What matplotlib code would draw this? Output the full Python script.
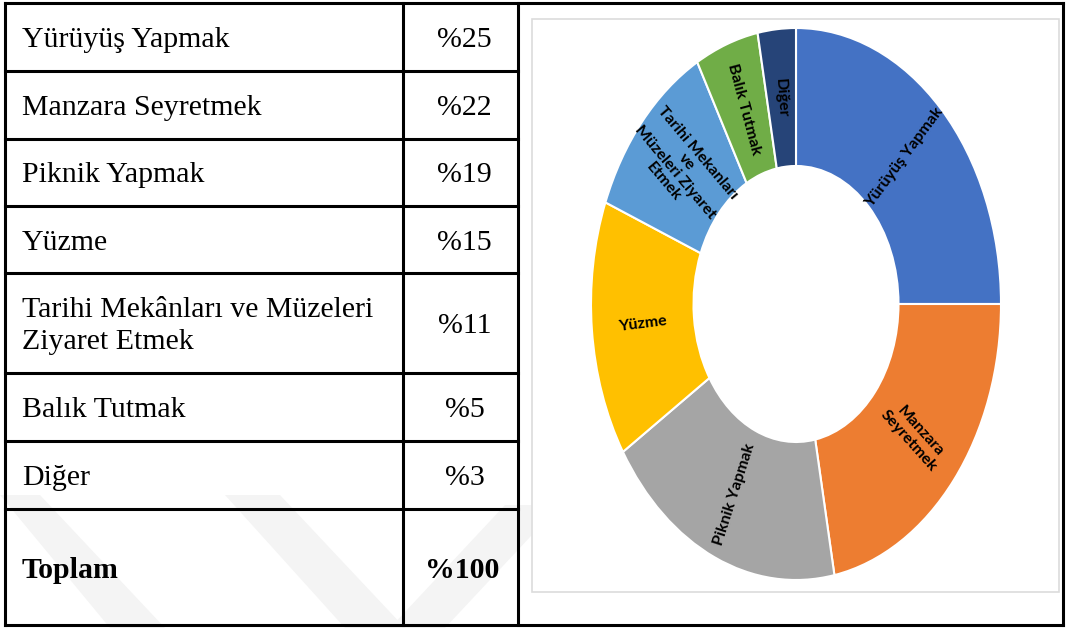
import numpy as np
import matplotlib
matplotlib.use("Agg")
import matplotlib.pyplot as plt
from matplotlib.patches import Polygon, Rectangle

# --- данные ---
activities = ["Yürüyüş Yapmak", "Manzara Seyretmek", "Piknik Yapmak", "Yüzme",
              "Tarihi Mekânları ve Müzeleri\nZiyaret Etmek", "Balık Tutmak", "Diğer"]
shares = [25, 22, 19, 15, 11, 5, 3]
total_label = "Toplam"
donut_labels = ["Yürüyüş Yapmak", "Manzara\nSeyretmek", "Piknik Yapmak", "Yüzme",
                "Tarihi Mekanları\nve\nMüzeleri Ziyaret\nEtmek", "Balık Tutmak", "Diğer"]
colors = ["#4472C4", "#ED7D31", "#A5A5A5", "#FFC000", "#5B9BD5", "#70AD47", "#264478"]

W, H = 1066, 628
fig = plt.figure(figsize=(W / 100, H / 100), dpi=100)

# фон/таблица в пикселях
bg = fig.add_axes([0, 0, 1, 1])
bg.set_xlim(0, W)
bg.set_ylim(H, 0)
bg.axis("off")

# водяной знак (бледные полосы)
wm = "#f4f4f4"
bands = [
    [(0, 495), (40, 495), (165, 628), (110, 628)],
    [(225, 495), (280, 495), (405, 628), (345, 628)],
    [(390, 628), (445, 628), (560, 505), (505, 505)],
]
for b in bands:
    bg.add_patch(Polygon(b, closed=True, color=wm, zorder=0, lw=0))

# границы таблицы
x0, x1, x2, x3 = 5, 403, 518, 1063
rows = [3, 71, 139, 206, 273, 373, 441, 509, 625]
lw = 2.2
for i, y in enumerate(rows):
    xe = x3 if i in (0, len(rows) - 1) else x2
    bg.plot([x0, xe], [y, y], color="black", lw=lw, solid_capstyle="projecting", zorder=3)
for x in [x0, x1, x2, x3]:
    bg.plot([x, x], [rows[0], rows[-1]], color="black", lw=lw, solid_capstyle="projecting", zorder=3)

# ячейка с графиком
bg.add_patch(Rectangle((532, 19), 1059 - 532, 592 - 19, fc="white", ec="#dcdcdc", lw=1.2, zorder=1))

serif = "Liberation Serif"
fs = 21.5
for i, (name, val) in enumerate(zip(activities, shares)):
    yc = (rows[i] + rows[i + 1]) / 2 + 3
    bg.text(22, yc, name, family=serif, fontsize=fs, ha="left", va="center",
            linespacing=1.3, zorder=4)
    bg.text((x1 + x2) / 2 + 4, yc, f"%{val}", family=serif, fontsize=fs,
            ha="center", va="center", zorder=4)
yc = (rows[-2] + rows[-1]) / 2 + 3
bg.text(22, yc, total_label, family=serif, fontsize=fs, fontweight="bold",
        ha="left", va="center", zorder=4)
bg.text((x1 + x2) / 2 + 2, yc, f"%{sum(shares)}", family=serif, fontsize=fs,
        fontweight="bold", ha="center", va="center", zorder=4)

# --- кольцевая диаграмма (эллипс) ---
cx, cy, rx, ry = 796, 304, 205, 276
ax = fig.add_axes([(cx - rx) / W, (H - cy - ry) / H, 2 * rx / W, 2 * ry / H])
wedges, _ = ax.pie(shares, colors=colors, startangle=90, counterclock=False,
                   radius=1, wedgeprops=dict(width=0.5, edgecolor="white", linewidth=1.5))
ax.set_aspect("auto")
ax.set_xlim(-1, 1)
ax.set_ylim(-1, 1)
ax.axis("off")

for w, lab in zip(wedges, donut_labels):
    th = np.radians((w.theta1 + w.theta2) / 2)
    r = 0.75
    ang = np.degrees(np.arctan2(ry * np.sin(th), rx * np.cos(th)))
    if ang > 90:
        ang -= 180
    elif ang < -90:
        ang += 180
    ax.text(r * np.cos(th), r * np.sin(th), lab, family="Lato", fontweight="bold",
            fontsize=11.5, ha="center", va="center", rotation=ang,
            rotation_mode="anchor", linespacing=1.1, color="black")

fig.savefig("out.png", dpi=100)
